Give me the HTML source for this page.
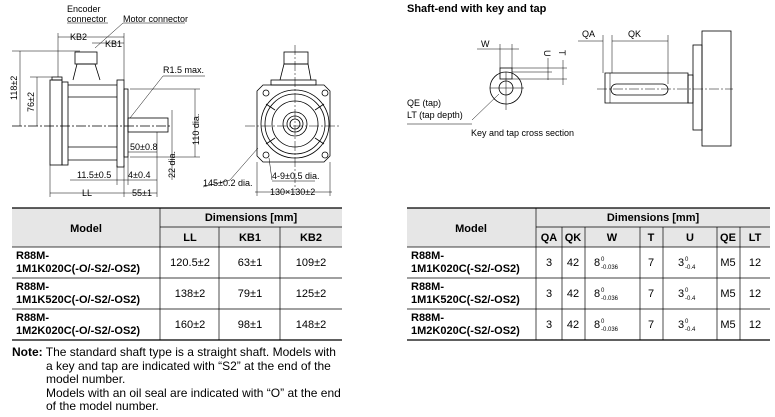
<!DOCTYPE html>
<html><head><meta charset="utf-8"><style>
html,body{margin:0;padding:0;background:#fff;}
svg{display:block;font-family:"Liberation Sans",Arial,sans-serif;}
</style></head><body>
<svg width="775" height="417" viewBox="0 0 775 417" xmlns="http://www.w3.org/2000/svg">
<g stroke="#000" stroke-width="0.8" fill="none">
<line x1="12" y1="126" x2="170" y2="126" stroke-dasharray="10,2,2,2"/>
<rect x="50" y="80" width="12" height="85"/>
<rect x="62" y="82" width="6" height="83"/>
<line x1="68" y1="85" x2="117" y2="85"/><line x1="68" y1="97" x2="117" y2="97"/>
<line x1="68" y1="147" x2="117" y2="147"/><line x1="68" y1="160" x2="117" y2="160"/>
<rect x="117" y="80" width="7" height="87"/>
<rect x="124" y="89" width="4" height="68"/>
<rect x="128" y="118" width="40" height="14"/>
<rect x="75" y="52" width="22" height="12"/>
<path d="M73 80 L77 64 L95 64 L100 80"/>
<rect x="52" y="77" width="10" height="3"/>
<line x1="12" y1="51" x2="80" y2="51" stroke-width="0.5"/>
<line x1="20" y1="51" x2="20" y2="126" stroke-width="0.5"/>
<line x1="30" y1="77" x2="52" y2="77" stroke-width="0.5"/>
<line x1="37" y1="77" x2="37" y2="126" stroke-width="0.5"/>
<line x1="58" y1="37" x2="124" y2="37" stroke-width="0.5"/>
<line x1="92" y1="43" x2="124" y2="43" stroke-width="0.5"/>
<line x1="124" y1="33" x2="124" y2="80" stroke-width="0.5"/>
<line x1="58" y1="33" x2="58" y2="77" stroke-width="0.5"/>
<line x1="67" y1="23" x2="108" y2="23" stroke-width="0.5"/>
<line x1="123" y1="23" x2="185" y2="23" stroke-width="0.5"/>
<line x1="123" y1="23" x2="95" y2="48" stroke-width="0.5"/>
<line x1="163" y1="76" x2="130" y2="118" stroke-width="0.5"/>
<line x1="163" y1="76" x2="205" y2="76" stroke-width="0.5"/>
<line x1="195" y1="89" x2="195" y2="157" stroke-width="0.5"/>
<line x1="130" y1="89" x2="200" y2="89" stroke-width="0.5"/>
<line x1="130" y1="157" x2="200" y2="157" stroke-width="0.5"/>
<line x1="172" y1="110" x2="172" y2="180" stroke-width="0.5"/>
<line x1="128" y1="152" x2="157" y2="152" stroke-width="0.5"/>
<line x1="70" y1="180" x2="157" y2="180" stroke-width="0.5"/>
<line x1="50" y1="193" x2="157" y2="193" stroke-width="0.5"/>
<line x1="50" y1="165" x2="50" y2="197" stroke-width="0.5"/>
<line x1="124" y1="165" x2="124" y2="197" stroke-width="0.5"/>
<line x1="128" y1="157" x2="128" y2="185" stroke-width="0.5"/>
<line x1="117" y1="165" x2="117" y2="185" stroke-width="0.5"/>
<line x1="157" y1="132" x2="157" y2="197" stroke-width="0.5"/>
<line x1="295" y1="45" x2="295" y2="190" stroke-width="0.5" stroke-dasharray="10,2,2,2"/>
<line x1="245" y1="126" x2="340" y2="126" stroke-width="0.5" stroke-dasharray="10,2,2,2"/>
<path d="M263 85 L324 85 L330 91 L330 156 L324 162 L263 162 L257 156 L257 91 Z"/>
<circle cx="295" cy="124" r="34"/>
<circle cx="295" cy="124" r="30"/>
<circle cx="295" cy="124" r="23"/>
<circle cx="295" cy="124" r="12"/>
<circle cx="295" cy="124" r="8"/>
<circle cx="295" cy="124" r="5"/>
<line x1="275" y1="110" x2="266" y2="104"/><line x1="315" y1="110" x2="324" y2="104"/>
<line x1="275" y1="138" x2="266" y2="144"/><line x1="315" y1="138" x2="324" y2="144"/>
<rect x="284" y="52" width="24" height="12"/>
<path d="M280 80 L284 64 L308 64 L311 80"/>
<rect x="271" y="80" width="45" height="5"/>
<circle cx="266" cy="93" r="3"/><circle cx="325" cy="93" r="3"/><circle cx="266" cy="155" r="3"/><circle cx="325" cy="155" r="3"/>
<line x1="230" y1="180" x2="258" y2="148" stroke-width="0.5"/>
<line x1="203" y1="187" x2="230" y2="180" stroke-width="0.5"/>
<line x1="269" y1="158" x2="272" y2="180" stroke-width="0.5"/>
<line x1="272" y1="181" x2="315" y2="181" stroke-width="0.5"/>
<line x1="255" y1="192" x2="332" y2="192" stroke-width="0.5"/>
<line x1="257" y1="162" x2="257" y2="196" stroke-width="0.5"/>
<line x1="330" y1="162" x2="330" y2="196" stroke-width="0.5"/>
<circle cx="506" cy="88" r="16"/>
<circle cx="506" cy="88" r="7"/>
<rect x="500" y="68" width="12" height="11"/>
<line x1="490" y1="88" x2="524" y2="88" stroke-width="0.5"/>
<line x1="506" y1="72" x2="506" y2="110" stroke-width="0.5"/>
<line x1="477" y1="49" x2="519" y2="49" stroke-width="0.5"/>
<line x1="500" y1="44" x2="500" y2="68" stroke-width="0.5"/>
<line x1="512" y1="44" x2="512" y2="68" stroke-width="0.5"/>
<line x1="512" y1="68" x2="567" y2="68" stroke-width="0.5"/>
<line x1="512" y1="72" x2="552" y2="72" stroke-width="0.5"/>
<line x1="512" y1="79" x2="567" y2="79" stroke-width="0.5"/>
<line x1="548" y1="58" x2="548" y2="80" stroke-width="0.5"/>
<line x1="563" y1="60" x2="563" y2="85" stroke-width="0.5"/>
<line x1="472" y1="120" x2="499" y2="94" stroke-width="0.5"/>
<line x1="407" y1="124" x2="472" y2="124" stroke="#999" stroke-width="1.2"/>
<line x1="597" y1="89" x2="733" y2="89" stroke-width="0.5" stroke-dasharray="10,2,2,2"/>
<path d="M605 73 L688 73 L688 103 L605 103 Z"/>
<line x1="610" y1="73" x2="610" y2="103" stroke-width="0.5"/>
<rect x="611" y="84" width="57" height="11" rx="5.5"/>
<rect x="688" y="75" width="5" height="28"/>
<rect x="693" y="45" width="9" height="85"/>
<rect x="702" y="31" width="29" height="115"/>
<line x1="578" y1="41" x2="603" y2="41" stroke-width="0.5"/>
<line x1="612" y1="41" x2="668" y2="41" stroke-width="0.5"/>
<line x1="603" y1="35" x2="603" y2="73" stroke-width="0.5"/>
<line x1="612" y1="35" x2="612" y2="73" stroke-width="0.5"/>
<line x1="668" y1="35" x2="668" y2="84" stroke-width="0.5"/>
</g>
<g font-size="9" fill="#000">
<text x="67" y="12">Encoder</text><text x="67" y="22">connector</text>
<text x="123" y="22">Motor connector</text>
<text x="70" y="40">KB2</text><text x="105" y="47">KB1</text>
<text x="163" y="73">R1.5 max.</text>
<text x="130" y="150">50±0.8</text>
<text x="77" y="178">11.5±0.5</text><text x="128" y="178">4±0.4</text>
<text x="82" y="196">LL</text><text x="132" y="196">55±1</text>
<text transform="translate(17 100) rotate(-90)">118±2</text>
<text transform="translate(34 112) rotate(-90)">76±2</text>
<text transform="translate(199 145) rotate(-90)">110 dia.</text>
<text transform="translate(175 178) rotate(-90)">22 dia.</text>
<text x="203" y="186">145±0.2 dia.</text>
<text x="272" y="179">4-9±0.5 dia.</text>
<text x="270" y="195">130×130±2</text>
<text x="481" y="47">W</text>
<text transform="translate(544 50) rotate(90)">U</text>
<text transform="translate(559 50) rotate(90)">T</text>
<text x="582" y="37">QA</text><text x="628" y="37">QK</text>
<text x="407" y="106">QE (tap)</text><text x="407" y="118">LT (tap depth)</text>
<text x="471" y="136">Key and tap cross section</text>
</g>
<text x="407" y="12" font-size="11" font-weight="bold">Shaft-end with key and tap</text>
<rect x="12" y="208" width="330" height="39" fill="#e6e6e6"/>
<g stroke="#000" stroke-width="0.7">
<line x1="12" y1="208" x2="342" y2="208" stroke-width="1.2"/>
<line x1="160" y1="227" x2="342" y2="227"/>
<line x1="12" y1="247" x2="342" y2="247"/>
<line x1="12" y1="278" x2="342" y2="278"/>
<line x1="12" y1="309" x2="342" y2="309"/>
<line x1="12" y1="340" x2="342" y2="340" stroke-width="1.2"/>
<line x1="160" y1="208" x2="160" y2="340"/>
<line x1="219" y1="227" x2="219" y2="340"/>
<line x1="280" y1="227" x2="280" y2="340"/>
</g>
<g font-size="11" text-anchor="middle">
<text x="86" y="232" font-weight="bold">Model</text>
<text x="251" y="221" font-weight="bold">Dimensions [mm]</text>
<text x="190" y="241" font-weight="bold">LL</text><text x="250" y="241" font-weight="bold">KB1</text><text x="311" y="241" font-weight="bold">KB2</text>
<text x="190" y="266">120.5±2</text><text x="250" y="266">63±1</text><text x="311" y="266">109±2</text>
<text x="190" y="297">138±2</text><text x="250" y="297">79±1</text><text x="311" y="297">125±2</text>
<text x="190" y="328">160±2</text><text x="250" y="328">98±1</text><text x="311" y="328">148±2</text>
</g>
<g font-size="11" font-weight="bold">
<text x="16" y="259">R88M-</text><text x="16" y="272">1M1K020C(-O/-S2/-OS2)</text>
<text x="16" y="290">R88M-</text><text x="16" y="303">1M1K520C(-O/-S2/-OS2)</text>
<text x="16" y="321">R88M-</text><text x="16" y="334">1M2K020C(-O/-S2/-OS2)</text>
</g>
<g font-size="12">
<text x="12" y="356"><tspan font-weight="bold">Note:</tspan> The standard shaft type is a straight shaft. Models with</text>
<text x="46" y="370">a key and tap are indicated with “S2” at the end of the</text>
<text x="46" y="383">model number.</text>
<text x="46" y="397">Models with an oil seal are indicated with “O” at the end</text>
<text x="46" y="410">of the model number.</text>
</g>
<rect x="407" y="208" width="363" height="39" fill="#e6e6e6"/>
<g stroke="#000" stroke-width="0.7">
<line x1="407" y1="208" x2="770" y2="208" stroke-width="1.2"/>
<line x1="536" y1="227" x2="770" y2="227"/>
<line x1="407" y1="247" x2="770" y2="247"/>
<line x1="407" y1="278" x2="770" y2="278"/>
<line x1="407" y1="309" x2="770" y2="309"/>
<line x1="407" y1="340" x2="770" y2="340" stroke-width="1.2"/>
<line x1="536" y1="208" x2="536" y2="340"/>
<line x1="562" y1="227" x2="562" y2="340"/>
<line x1="585" y1="227" x2="585" y2="340"/>
<line x1="640" y1="227" x2="640" y2="340"/>
<line x1="663" y1="227" x2="663" y2="340"/>
<line x1="717" y1="227" x2="717" y2="340"/>
<line x1="740" y1="227" x2="740" y2="340"/>
</g>
<g font-size="11" text-anchor="middle">
<text x="471" y="232" font-weight="bold">Model</text>
<text x="653" y="221" font-weight="bold">Dimensions [mm]</text>
<g font-weight="bold"><text x="549" y="241">QA</text><text x="573" y="241">QK</text><text x="612" y="241">W</text><text x="651" y="241">T</text><text x="690" y="241">U</text><text x="728" y="241">QE</text><text x="755" y="241">LT</text></g>
<g><text x="549" y="266">3</text><text x="573" y="266">42</text><text x="651" y="266">7</text><text x="728" y="266">M5</text><text x="755" y="266">12</text></g>
<g transform="translate(0 31)"><text x="549" y="266">3</text><text x="573" y="266">42</text><text x="651" y="266">7</text><text x="728" y="266">M5</text><text x="755" y="266">12</text></g>
<g transform="translate(0 62)"><text x="549" y="266">3</text><text x="573" y="266">42</text><text x="651" y="266">7</text><text x="728" y="266">M5</text><text x="755" y="266">12</text></g>
</g>
<g font-size="11">
<g><text x="594" y="266">8</text><text x="601" y="261" font-size="6">0</text><text x="601" y="269" font-size="6">-0.036</text><text x="678" y="266">3</text><text x="685" y="261" font-size="6">0</text><text x="685" y="269" font-size="6">-0.4</text></g>
<g transform="translate(0 31)"><text x="594" y="266">8</text><text x="601" y="261" font-size="6">0</text><text x="601" y="269" font-size="6">-0.036</text><text x="678" y="266">3</text><text x="685" y="261" font-size="6">0</text><text x="685" y="269" font-size="6">-0.4</text></g>
<g transform="translate(0 62)"><text x="594" y="266">8</text><text x="601" y="261" font-size="6">0</text><text x="601" y="269" font-size="6">-0.036</text><text x="678" y="266">3</text><text x="685" y="261" font-size="6">0</text><text x="685" y="269" font-size="6">-0.4</text></g>
</g>
<g font-size="11" font-weight="bold">
<text x="411" y="259">R88M-</text><text x="411" y="272">1M1K020C(-S2/-OS2)</text>
<text x="411" y="290">R88M-</text><text x="411" y="303">1M1K520C(-S2/-OS2)</text>
<text x="411" y="321">R88M-</text><text x="411" y="334">1M2K020C(-S2/-OS2)</text>
</g>
</svg>
</body></html>
